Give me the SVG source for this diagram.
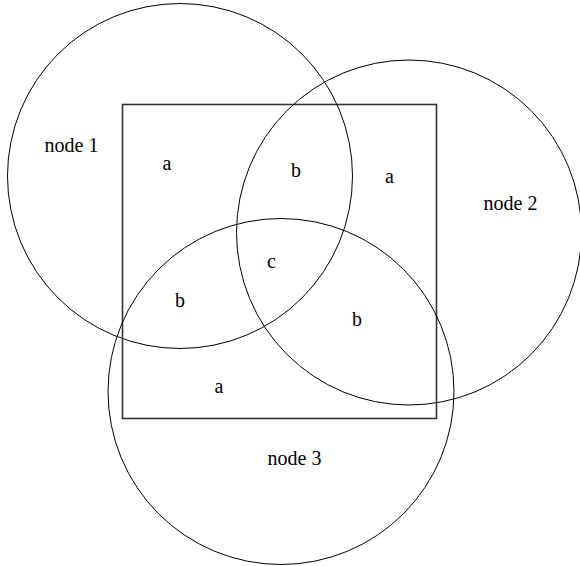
<svg xmlns="http://www.w3.org/2000/svg" width="580" height="566" viewBox="0 0 580 566">
<style>
.c{fill:none;stroke:#000;stroke-width:1}
.r{fill:none;stroke:#333;stroke-width:1.6}
.t{font-family:"Liberation Serif","Times New Roman",serif;font-size:20px;fill:#000;text-anchor:middle}
</style>
<rect width="580" height="566" fill="#fff"/>
<g id="square"><rect class="r" x="122.5" y="104.5" width="314" height="314"/></g>
<g id="node1"><circle class="c" cx="180" cy="176" r="172.5"/><text class="t" x="71.5" y="152">node 1</text></g>
<g id="node2"><circle class="c" cx="409" cy="232.5" r="172.5"/><text class="t" x="510.5" y="210">node 2</text></g>
<g id="node3"><circle class="c" cx="281" cy="391.5" r="173"/><text class="t" x="294.5" y="465">node 3</text></g>
<g id="labels">
<text class="t" x="167" y="170">a</text>
<text class="t" x="296" y="177">b</text>
<text class="t" x="389.5" y="183">a</text>
<text class="t" x="271.5" y="268">c</text>
<text class="t" x="180" y="307">b</text>
<text class="t" x="357" y="326">b</text>
<text class="t" x="219" y="393">a</text>
</g>
</svg>
